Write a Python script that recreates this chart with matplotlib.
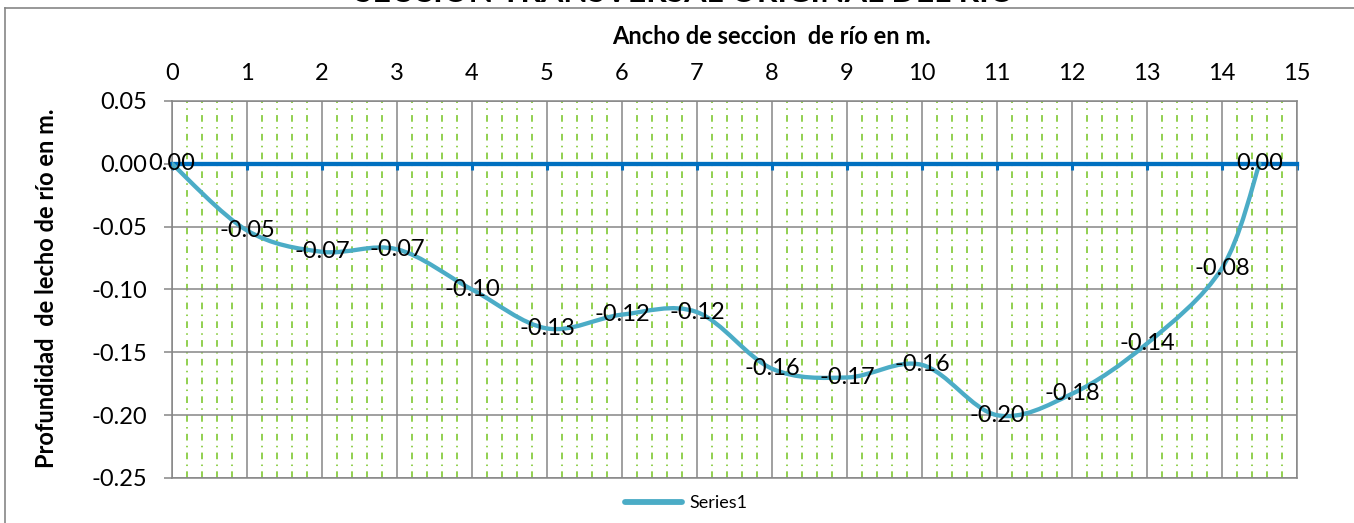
import numpy as np
import matplotlib
matplotlib.use("Agg")
import matplotlib.pyplot as plt
from matplotlib.path import Path
from matplotlib.patches import PathPatch
from matplotlib.lines import Line2D
from matplotlib.ticker import MultipleLocator, FormatStrFormatter

plt.rcParams['font.family'] = ['Lato', 'DejaVu Sans']
plt.rcParams['axes.unicode_minus'] = False
plt.rcParams['lines.scale_dashes'] = False

# ancho (m) y profundidad (m) del lecho
ancho = [0, 1, 2, 3, 4, 5, 6, 7, 8, 9, 10, 11, 12, 13, 14, 14.5]
profundidad = [0.00, -0.053, -0.070, -0.068, -0.100, -0.131, -0.120, -0.118,
               -0.163, -0.170, -0.160, -0.200, -0.183, -0.143, -0.083, 0.00]
serie = 'Series1'

titulo = 'SECCION TRANSVERSAL ORIGINAL DEL RIO'
xlab = 'Ancho de seccion  de río en m.'
ylab = 'Profundidad  de lecho de río en m.'

gris = '#868686'
verde = '#92D050'
azul = '#0070C0'
linea = '#4BACC6'

W, H = 1354, 523
fig = plt.figure(figsize=(W / 100, H / 100), dpi=100)
ax = fig.add_axes([172 / W, 1 - 478 / H, (1297 - 172) / W, (478 - 101) / H])

ax.set_xlim(0, 15)
ax.set_ylim(-0.25, 0.05)
ax.xaxis.set_major_locator(MultipleLocator(1))
ax.xaxis.set_minor_locator(MultipleLocator(0.2))
ax.yaxis.set_major_locator(MultipleLocator(0.05))
ax.yaxis.set_major_formatter(FormatStrFormatter('%.2f'))

ax.grid(True, which='major', axis='both', color=gris, lw=1.1, zorder=0)
ax.grid(True, which='minor', axis='x', color=verde, lw=1.4,
        ls=(0, (4.8, 3.8, 1.1, 3.8)), zorder=0)
ax.set_axisbelow(True)

# eje horizontal en y=0, etiquetas arriba
ax.spines['bottom'].set_position(('data', 0))
ax.spines['bottom'].set_color(azul)
ax.spines['bottom'].set_linewidth(3.1)
ax.spines['bottom'].set_zorder(2.6)
for s in ['top', 'left', 'right']:
    ax.spines[s].set_color(gris)
    ax.spines[s].set_linewidth(1.1)
ax.plot([0, 1], [0, 0], transform=ax.transAxes, color=gris, lw=1.1,
        clip_on=False, zorder=2)

ax.tick_params(axis='x', which='major', bottom=True, top=False,
               labelbottom=False, labeltop=True, direction='out',
               length=4.5, width=2.2, color=azul, labelsize=17, pad=8)
ax.tick_params(axis='x', which='minor', length=0)
ax.tick_params(axis='y', which='major', direction='out', length=5.8,
               width=1.1, color=gris, labelsize=17, pad=12)

# curva suavizada (Bezier tipo Catmull-Rom, como Excel)
pts = np.column_stack([ancho, profundidad])
n = len(pts)
verts = [pts[0]]
codes = [Path.MOVETO]
for i in range(n - 1):
    p0 = pts[max(i - 1, 0)]
    p1 = pts[i]
    p2 = pts[i + 1]
    p3 = pts[min(i + 2, n - 1)]
    c1 = p1 + (p2 - p0) / 6.0
    c2 = p2 - (p3 - p1) / 6.0
    verts += [c1, c2, p2]
    codes += [Path.CURVE4] * 3
ax.add_patch(PathPatch(Path(verts, codes), fill=False, edgecolor=linea,
                       lw=3.1, capstyle='round', zorder=3))

for x, y in zip(ancho, profundidad):
    ax.text(x, y, '%.2f' % y, ha='center', va='center', fontsize=17,
            color='black', zorder=5)

fig.text(772 / W, 1 - 37 / H, xlab, ha='center', va='center',
         fontsize=17, fontweight='bold')
fig.text(47 / W, 1 - 288 / H, ylab, ha='center', va='center',
         rotation=90, fontsize=17, fontweight='bold')
fig.text(685 / W, 1 - 2.5 / H, titulo, ha='center', va='baseline',
         fontsize=23, fontweight='bold')

# marco del grafico
fig.add_artist(Line2D([5 / W, 5 / W], [0, 1 - 7.5 / H], color=gris, lw=1.2,
                      transform=fig.transFigure))
fig.add_artist(Line2D([5 / W, 1], [1 - 7.5 / H, 1 - 7.5 / H], color=gris,
                      lw=1.2, transform=fig.transFigure))

h = Line2D([], [], color=linea, lw=4.2, solid_capstyle='round')
fig.legend([h], [serie], loc='center', bbox_to_anchor=(686 / W, 1 - 503 / H),
           frameon=False, fontsize=13, handlelength=3.2, handletextpad=0.4)

fig.savefig('out.png', dpi=100)
